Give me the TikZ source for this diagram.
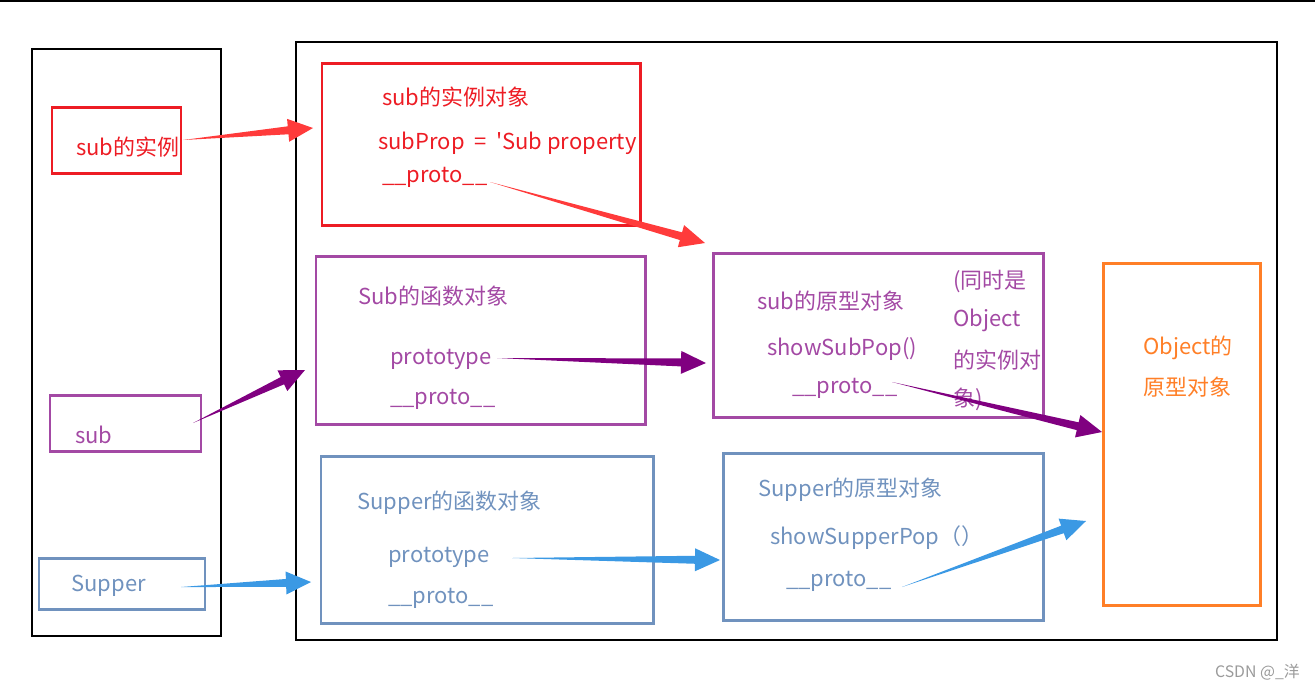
\documentclass[tikz,border=0pt]{standalone}
\usepackage{fontspec}
\newfontfamily\cjk{Noto Sans CJK SC}
\usetikzlibrary{calc,fit}
\definecolor{cred}{HTML}{ED1C24}
\definecolor{ared}{HTML}{FF3B3B}
\definecolor{cpur}{HTML}{A349A4}
\definecolor{apur}{HTML}{800080}
\definecolor{cblue}{HTML}{7092BE}
\definecolor{ablue}{HTML}{3B99E4}
\definecolor{corange}{HTML}{FF7F27}
\definecolor{wm}{HTML}{9A9A9A}
\newcommand\fatarrow[3]{%
  \path ($(#3)!0.5cm!(#2)$) coordinate (fa-h);
  \fill[#1] (#2) -- ($(fa-h)!0.08cm!90:(#3)$) -- ($(fa-h)!0.23cm!90:(#3)$) -- (#3)
    -- ($(fa-h)!0.23cm!-90:(#3)$) -- ($(fa-h)!0.08cm!-90:(#3)$) -- cycle;}
\tikzset{
  frame/.style={draw=black, line width=0.6pt, inner sep=0pt},
  cbox/.style={draw=#1, line width=1.7pt, inner sep=0pt},
  txt/.style={font=\cjk\fontsize{12.5}{15}\selectfont, text=#1, anchor=west, inner sep=0pt},
}
\begin{document}
\begin{tikzpicture}[x=0.02cm, y=-0.02cm]
\useasboundingbox (0,0) rectangle (1315,691);
% top rule
\coordinate (tl) at (0,1);
\coordinate (tr) at (1315,1);
\draw[line width=1pt] (tl) -- (tr);
% frames
\node[frame, fit={(32,49)(221,636)}] (left) {};
\node[frame, fit={(296,42)(1277,640)}] (right) {};
% left boxes
\node[cbox=cred, fit={(52,107)(181,173)}] (subinst) {};
\node[txt=cred] (subinstT) at (76,147) {sub的实例};
\node[cbox=cpur, fit={(50,395)(201,451)}] (sub) {};
\node[txt=cpur] (subT) at (75,435) {sub};
\node[cbox=cblue, fit={(39,558)(205,609)}] (supper) {};
\node[txt=cblue] (supperT) at (71,586) {Supper};
% instance object
\node[cbox=cred, fit={(322,63)(640,225)}] (inst) {};
\node[txt=cred] (instA) at (382,97) {sub的实例对象};
\node[txt=cred] (instB) at (378,143) {subProp\hspace*{0.45em}=\hspace*{0.45em}'Sub property};
\node[txt=cred] (instC) at (382,177) {\_\_proto\_\_};
% Sub function object
\node[cbox=cpur, fit={(316,256)(645,424)}] (subfn) {};
\node[txt=cpur] (subfnA) at (358,296) {Sub的函数对象};
\node[txt=cpur] (subfnB) at (390,359) {prototype};
\node[txt=cpur] (subfnC) at (390,399) {\_\_proto\_\_};
% sub prototype
\node[cbox=cpur, fit={(713,253)(1043,417)}] (subpro) {};
\node[txt=cpur] (subproA) at (757,301) {sub的原型对象};
\node[txt=cpur] (subproB) at (767,349) {showSubPop()};
\node[txt=cpur] (subproC) at (792,388) {\_\_proto\_\_};
\node[txt=cpur] (subproD) at (953,281) {(同时是};
\node[txt=cpur] (subproE) at (953,320) {Object};
\node[txt=cpur] (subproF) at (953,360) {的实例对};
\node[txt=cpur] (subproG) at (953,399) {象)};
% Object prototype
\node[cbox=corange, fit={(1103,263)(1260,605)}] (obj) {};
\node[txt=corange] (objA) at (1143,348) {Object的};
\node[txt=corange] (objB) at (1143,387) {原型对象};
% Supper function object
\node[cbox=cblue, fit={(321,456)(653,623)}] (supfn) {};
\node[txt=cblue] (supfnA) at (357,503) {Supper的函数对象};
\node[txt=cblue] (supfnB) at (388,557) {prototype};
\node[txt=cblue] (supfnC) at (388,598) {\_\_proto\_\_};
% Supper prototype
\node[cbox=cblue, fit={(723,453)(1043,620)}] (suppro) {};
\node[txt=cblue] (supproA) at (758,490) {Supper的原型对象};
\node[txt=cblue] (supproB) at (770,538) {showSupperPop（）};
\node[txt=cblue] (supproC) at (786,581) {\_\_proto\_\_};
% watermark
\node[font=\cjk\fontsize{9}{11}\selectfont, text=wm, anchor=east, inner sep=0pt] (wmark) at (1300,672) {CSDN @\_洋};
% arrow ends
\coordinate (r1a) at (183,140); \coordinate (r1b) at (313,128);
\coordinate (r2a) at (490,182); \coordinate (r2b) at (705,243);
\coordinate (p1a) at (193,423); \coordinate (p1b) at (305,370);
\coordinate (p2a) at (497,358); \coordinate (p2b) at (706,363);
\coordinate (p3a) at (892,382); \coordinate (p3b) at (1102,432);
\coordinate (b1a) at (181,587); \coordinate (b1b) at (311,582);
\coordinate (b2a) at (512,558); \coordinate (b2b) at (720,560);
\coordinate (b3a) at (902,587); \coordinate (b3b) at (1086,521);
\fatarrow{ared}{r1a}{r1b}
\fatarrow{ared}{r2a}{r2b}
\fatarrow{apur}{p1a}{p1b}
\fatarrow{apur}{p2a}{p2b}
\fatarrow{apur}{p3a}{p3b}
\fatarrow{ablue}{b1a}{b1b}
\fatarrow{ablue}{b2a}{b2b}
\fatarrow{ablue}{b3a}{b3b}
\end{tikzpicture}
\end{document}
